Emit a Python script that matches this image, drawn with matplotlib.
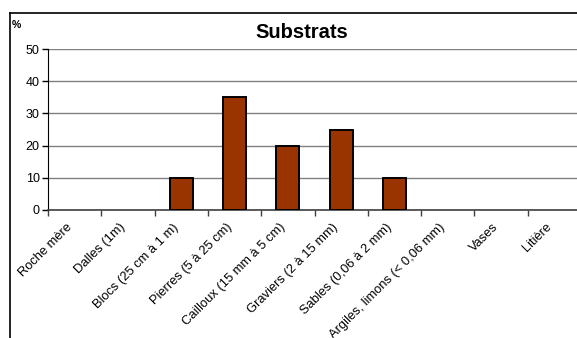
import numpy as np
import matplotlib
matplotlib.use('Agg')
import matplotlib.pyplot as plt
from matplotlib.lines import Line2D
from matplotlib.transforms import ScaledTranslation

plt.rcParams['font.family'] = ['Liberation Sans', 'DejaVu Sans']

# Substrate categories and share in percent
categories = ['Roche mère', 'Dalles (1m)', 'Blocs (25 cm à 1 m)', 'Pierres (5 à 25 cm)',
              'Cailloux (15 mm à 5 cm)', 'Graviers (2 à 15 mm)', 'Sables (0,06 à 2 mm)',
              'Argiles, limons (< 0,06 mm)', 'Vases', 'Litière']
values = [0, 0, 10, 35, 20, 25, 10, 0, 0, 0]
yticks = [0, 10, 20, 30, 40, 50]

W, H = 577, 338
fig = plt.figure(figsize=(W / 100, H / 100), dpi=100)
fig.patch.set_facecolor('white')

# plot area runs past the right edge of the picture, like the original crop
ax = fig.add_axes([48 / W, (H - 210) / H, 533 / W, 161 / H])

x = np.arange(len(categories))
edges = ['black' if v > 0 else 'none' for v in values]
ax.bar(x, values, width=0.43, color='#993300', edgecolor=edges, linewidth=1.4, zorder=3)

ax.set_xlim(-0.5, len(categories) - 0.5)
ax.set_ylim(0, 50)
ax.set_yticks(yticks)
ax.yaxis.grid(True, color='#808080', linewidth=1.0, zorder=0)
ax.tick_params(axis='y', labelsize=9, length=4, direction='out', width=1, pad=2)

ax.set_xticks(x)
ax.set_xticklabels(categories, rotation=45, ha='right', va='top', rotation_mode='anchor', fontsize=9.3)
ax.tick_params(axis='x', which='major', length=0, pad=8)
shift = ScaledTranslation(-9 / 100, 0, fig.dpi_scale_trans)
for lab in ax.get_xticklabels():
    lab.set_transform(lab.get_transform() + shift)
ax.set_xticks(np.arange(-0.5, len(categories)), minor=True)
ax.tick_params(axis='x', which='minor', length=4, width=1, direction='out', color='#404040')

for s in ['top', 'right']:
    ax.spines[s].set_visible(False)
ax.spines['left'].set_color('black')
ax.spines['bottom'].set_color('#404040')
ax.spines['bottom'].set_linewidth(1.2)

# outer chart frame (left and top edges visible)
fig.add_artist(Line2D([9.5 / W, 9.5 / W], [0, (H - 13) / H], color='black', linewidth=1.2))
fig.add_artist(Line2D([9.5 / W, 1], [(H - 13) / H, (H - 13) / H], color='black', linewidth=1.2))

fig.text(302 / W, (H - 32) / H, 'Substrats', ha='center', va='center', fontsize=14.5, fontweight='bold')
fig.text(12 / W, (H - 25) / H, '%', ha='left', va='center', fontsize=7.5, fontweight='bold')

fig.savefig('out.png', dpi=100)
